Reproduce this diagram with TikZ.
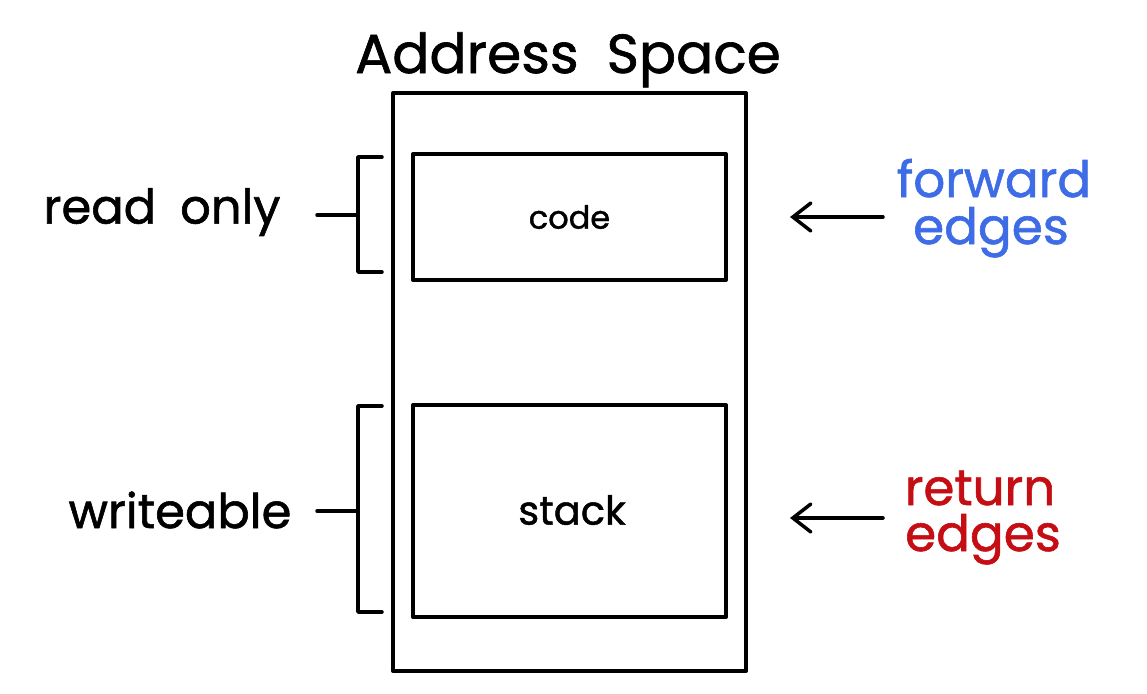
\documentclass[tikz,border=0pt]{standalone}
\usepackage{fontspec}
\setmainfont{Poppins}[FakeBold=1.2]
\usepackage{tikz}
\usetikzlibrary{arrows.meta}
\definecolor{fwdblue}{RGB}{62,108,230}
\definecolor{retred}{RGB}{196,14,20}

\begin{document}
\begin{tikzpicture}[x=1pt,y=1pt,yscale=-1,
  box/.style={draw, line width=4pt, line join=round, inner sep=0pt},
  hand/.style={line width=3.5pt, line cap=round, line join=round},
  ptr/.style={hand, -{Straight Barb[length=18pt,width=28pt,line cap=round]}},
  lbl/.style={inner sep=0pt, font=\fontsize{48}{50}\selectfont},
  edge/.style={inner sep=0pt, anchor=base, font=\fontsize{50}{52}\selectfont},
  small/.style={font=\fontsize{32}{34}\selectfont}]
\useasboundingbox (0,0) rectangle (1147,693);
% Text Node
\node [inner sep=0pt, anchor=base, font=\fontsize{55}{58}\selectfont] (title) at (568,73) {Address\hspace{28pt}Space};
%Shape: Rectangle
\node [box, minimum width=353pt, minimum height=578pt] (space) at (569.5,382) {};
%Shape: Rectangle
\node [box, small, minimum width=313pt, minimum height=126pt] (code) at (569.5,217) {code};
%Shape: Rectangle
\node [box, minimum width=313pt, minimum height=212pt] (stack) at (569.5,511) {};
% Text Node
\node [inner sep=0pt, font=\fontsize{40}{42}\selectfont] (stacktxt) at (572,510) {stack};
% Text Node
\node [lbl] (ro) at (162,212) {read\hspace{24pt}only};
% Text Node
\node [lbl] (wr) at (180,510) {writeable};
% Text Node
\node [edge, text=fwdblue] (fwd) at (994,197) {forward};
\node [edge, text=fwdblue] (fwdedges) at (991,244) {edges};
% Text Node
\node [edge, text=retred] (ret) at (980,505) {return};
\node [edge, text=retred] (retedges) at (983,551) {edges};
% bracket corners
\coordinate (rotop) at (382,157);
\coordinate (robot) at (382,272);
\coordinate (romid) at (358,215);
\coordinate (rostub) at (317,215);
\coordinate (wrtop) at (382,406);
\coordinate (wrbot) at (382,612);
\coordinate (wrmid) at (358,511);
\coordinate (wrstub) at (317,511);
%Straight Lines
\draw [hand] (rotop) -| (romid) |- (robot);
\draw [hand] (rostub) -- (romid);
%Straight Lines
\draw [hand] (wrtop) -| (wrmid) |- (wrbot);
\draw [hand] (wrstub) -- (wrmid);
% arrow ends
\coordinate (fwdtail) at (883,217);
\coordinate (fwdhead) at (790,217);
\coordinate (rettail) at (883,518);
\coordinate (rethead) at (790,518);
%Straight Lines
\draw [ptr] (fwdtail) -- (fwdhead);
\draw [ptr] (rettail) -- (rethead);
\end{tikzpicture}
\end{document}
